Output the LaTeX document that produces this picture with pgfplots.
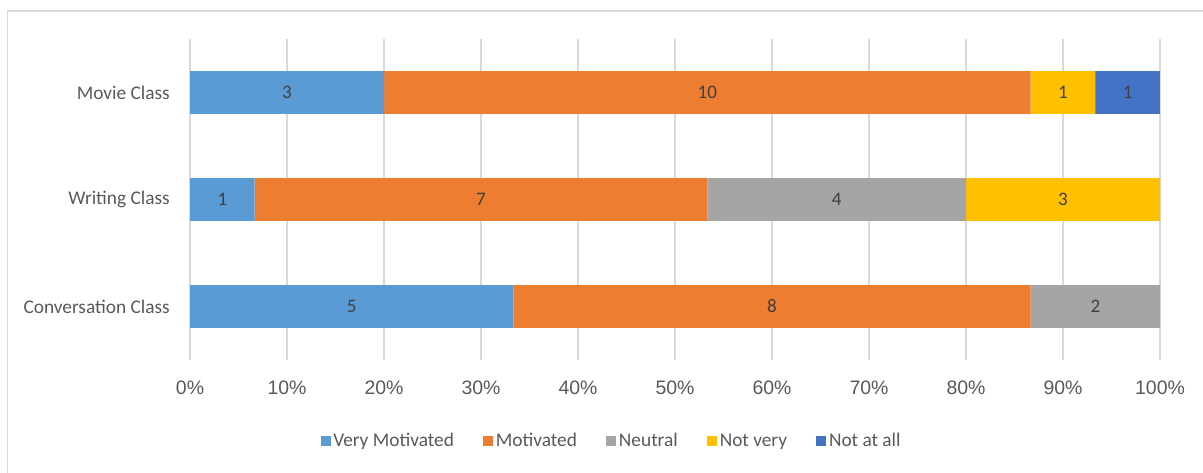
\documentclass[border=0pt]{standalone}
\usepackage{fontspec}
\setmainfont{Carlito}
\newfontfamily\arialf{Liberation Sans}
\usepackage{pgfplots}
\usepackage{pgfplotstable}
\pgfplotsset{compat=1.18}

\definecolor{cVM}{HTML}{5B9BD5}
\definecolor{cM}{HTML}{ED7D31}
\definecolor{cN}{HTML}{A5A5A5}
\definecolor{cNV}{HTML}{FFC000}
\definecolor{cNA}{HTML}{4472C4}
\definecolor{cGrid}{HTML}{D9D9D9}
\definecolor{cText}{HTML}{595959}
\definecolor{cLab}{HTML}{404040}

% counts per class (15 students each)
\pgfplotstableread{
y vm m  n nv na
0 5  8  2 0  0
1 1  7  4 3  0
2 3  10 0 1  1
}\data

% one segment: column, colour
\newcommand{\seg}[2]{%
  \addplot[fill=#2, draw=none]
    table[y=y, x expr=\thisrow{#1}*100/15, meta=#1] {\data};}

\begin{document}
\begin{tikzpicture}
\useasboundingbox (0,0) rectangle (902.25pt,354pt);
\begin{scope}
  \clip (0,0) rectangle (902.25pt,354pt);
  \draw[cGrid, line width=0.9pt] (5.6pt,345.75pt) rectangle (930pt,-30pt);
\end{scope}
\begin{axis}[
  at={(142.5pt,84pt)}, anchor=south west,
  scale only axis, width=727.5pt, height=240.75pt,
  xbar stacked, bar width=0.4,
  xmin=0, xmax=100, ymin=-0.5, ymax=2.5,
  xtick={0,10,...,100},
  ytick={0,1,2},
  yticklabels={Conversation Class,Writing Class,Movie Class},
  xticklabel={\pgfmathprintnumber{\tick}\%},
  /pgf/number format/assume math mode=true,
  xmajorgrids, grid style={cGrid, line width=1.1pt},
  axis line style={draw=none}, major tick length=0pt,
  xticklabel style={font=\arialf\fontsize{14.6}{16}\selectfont, text=cText, inner sep=0pt, anchor=north, yshift=-15.5pt},
  yticklabel style={font=\fontsize{14.5}{16}\selectfont, text=cText, inner sep=0pt, anchor=east, xshift=-15pt},
  point meta=explicit,
  nodes near coords={\pgfmathfloatifflags{\pgfplotspointmeta}{0}{}{\pgfmathprintnumber{\pgfplotspointmeta}}},
  every node near coord/.append style={font=\fontsize{14.3}{16}\selectfont, text=cLab, anchor=center},
  legend style={at={(0.435,-0.252)}, anchor=center, draw=none, legend columns=5,
    font=\fontsize{14.5}{16}\selectfont, text=cText,
    /tikz/every even column/.append style={column sep=20pt}},
  legend image code/.code={\fill[#1] (-3pt,-3.75pt) rectangle (4.5pt,3.75pt);},
]
\seg{vm}{cVM}
\addlegendentry{Very Motivated}
\seg{m}{cM}
\addlegendentry{Motivated}
\seg{n}{cN}
\addlegendentry{Neutral}
\seg{nv}{cNV}
\addlegendentry{Not very}
\seg{na}{cNA}
\addlegendentry{Not at all}
\end{axis}
\end{tikzpicture}
\end{document}
